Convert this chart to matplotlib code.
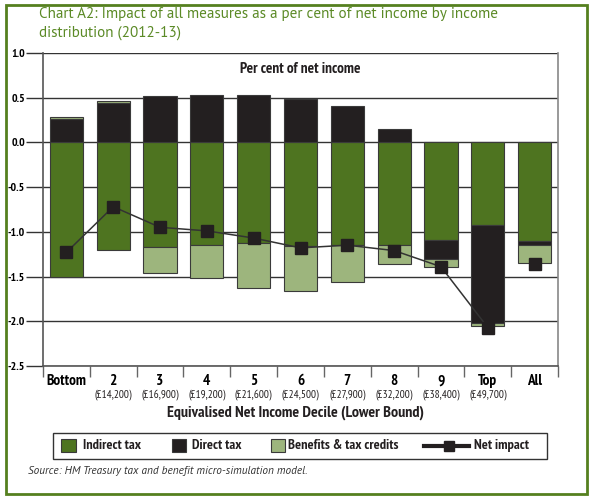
import matplotlib
matplotlib.use("Agg")
import matplotlib.pyplot as plt
from matplotlib import font_manager
from matplotlib.patches import Rectangle
from matplotlib.lines import Line2D
import matplotlib.transforms as mtransforms
import numpy as np

# ---------- DATA ----------
categories = ["Bottom", "2", "3", "4", "5", "6", "7", "8", "9", "Top", "All"]
lower_bounds = ["", "(£14,200)", "(£16,900)", "(£19,200)", "(£21,600)", "(£24,500)",
                "(£27,900)", "(£32,200)", "(£38,400)", "(£49,700)", ""]

indirect_tax = [-1.51, -1.20, -1.17, -1.15, -1.13, -1.16, -1.15, -1.15, -1.09, -0.92, -1.10]
direct_tax = [0.26, 0.44, 0.52, 0.53, 0.53, 0.48, 0.40, 0.15, -0.21, -1.10, -0.05]
benefits = [0.02, 0.02, -0.29, -0.37, -0.50, -0.50, -0.41, -0.21, -0.09, -0.03, -0.20]
net_impact = [-1.23, -0.72, -0.95, -0.99, -1.07, -1.18, -1.15, -1.21, -1.39, -2.07, -1.36]

legend_labels = ["Indirect tax", "Direct tax", "Benefits & tax credits", "Net impact"]

# ---------- FONTS ----------
fonts = font_manager.fontManager.ttflist
names = {f.name for f in fonts}
main = None
for fam in ["PT Sans Narrow", "Asap Condensed", "Fira Sans Condensed"]:
    if fam in names:
        main = fam
        break
if main:
    plt.rcParams['font.family'] = [main, "DejaVu Sans"]
else:
    plt.rcParams['font.family'] = ["DejaVu Sans"]
    plt.rcParams['font.stretch'] = "condensed"
# a wider companion face for the title and source line
wide = ["PT Sans", "DejaVu Sans"] if "PT Sans" in names else plt.rcParams['font.family']

GREEN = "#4e7420"
BLACK = "#231f20"
LIGHT = "#9db57d"
EDGE = "#3a3a3a"
TITLE_GREEN = "#5b8a26"

W, H = 595, 503
fig = plt.figure(figsize=(W / 100, H / 100), dpi=100)
ax = fig.add_axes([43 / W, 1 - 366 / H, 515 / W, 313.2 / H])
renderer = fig.canvas.get_renderer()


def fx(px):
    return px / W


def fy(py):
    return 1 - py / H


def fit(t, target_px, max_size=None):
    # scale a text so its drawn width matches the reference
    w = t.get_window_extent(renderer).width
    size = t.get_fontsize() * target_px / w
    if max_size:
        size = min(size, max_size)
    t.set_fontsize(size)
    return t


x = np.arange(len(categories))
width = 0.71

# stack positives upward and negatives downward from zero
pos_base = np.zeros(len(x))
neg_base = np.zeros(len(x))
for vals, col in [(indirect_tax, GREEN), (direct_tax, BLACK), (benefits, LIGHT)]:
    vals = np.array(vals)
    bottoms = np.where(vals >= 0, pos_base, neg_base)
    ax.bar(x, vals, width, bottom=bottoms, color=col, edgecolor=EDGE,
           linewidth=0.8, zorder=3)
    pos_base = np.where(vals >= 0, pos_base + vals, pos_base)
    neg_base = np.where(vals < 0, neg_base + vals, neg_base)

# net impact: line through the deciles, separate marker for All
ax.plot(x[:10], net_impact[:10], color="#333333", linewidth=1.1, marker="s",
        markersize=8, markerfacecolor=BLACK, markeredgecolor=BLACK, zorder=4)
ax.plot(x[10:], net_impact[10:], linestyle="none", marker="s", markersize=8,
        markerfacecolor=BLACK, markeredgecolor=BLACK, zorder=4)

# ---------- AXES ----------
yt = np.arange(-2.5, 1.01, 0.5)
ax.set_xlim(-0.5, 10.5)
ax.set_ylim(-2.5, 1.0)
ax.set_yticks(yt)
ax.set_yticklabels([f"{v:.1f}" for v in yt], fontweight="bold", fontsize=8.5)
ax.yaxis.grid(True, color="#333333", linewidth=1.0, zorder=0)
ax.tick_params(axis="y", length=12, width=1.0, color="#333333", pad=1)

ax.set_xticks(x)
ax.set_xticklabels(categories, fontweight="bold")
ax.tick_params(axis="x", which="major", length=0, pad=6)
ax.set_xticks(np.arange(-0.5, 10.6, 1.0), minor=True)
ax.tick_params(axis="x", which="minor", length=8, width=1.0, color="#666666")

ax.spines["top"].set_visible(False)
ax.spines["left"].set_color("#555555")
ax.spines["left"].set_linewidth(1.2)
ax.spines["right"].set_color("#888888")
ax.spines["right"].set_linewidth(1.2)
ax.spines["bottom"].set_color("#555555")
ax.spines["bottom"].set_linewidth(1.2)
ax.set_axisbelow(True)

# size category labels from the reference "Bottom" width
fig.canvas.draw()
bottom_lab = ax.get_xticklabels()[0]
fit(bottom_lab, 42, 11)
for t in ax.get_xticklabels():
    t.set_fontsize(bottom_lab.get_fontsize())

# lower bound labels under the category names
trans = mtransforms.blended_transform_factory(ax.transData, fig.transFigure)
sub = []
for xi, lab in zip(x, lower_bounds):
    if lab:
        sub.append(ax.text(xi, fy(395), lab, transform=trans, ha="center", va="center",
                           fontsize=8, color=BLACK))
fit(sub[0], 39.5, 8)
for t in sub:
    t.set_fontsize(sub[0].get_fontsize())

xl = fig.text(fx(166.7), fy(413), "Equivalised Net Income Decile (Lower Bound)",
              ha="left", va="center", fontsize=11, fontweight="bold", color=BLACK)
fit(xl, 265, 11.5)

pc = fig.text(fx(240), fy(69), "Per cent of net income", ha="left", va="center",
              fontsize=10.5, fontweight="bold", color=BLACK)
fit(pc, 129, 11)

# ---------- TITLE ----------
t1 = fig.text(fx(39), fy(14), "Chart A2: Impact of all measures as a per cent of net income by income",
              ha="left", va="center", fontsize=12, color=TITLE_GREEN, family=wide)
fit(t1, 461, 12)
fig.text(fx(39), fy(33), "distribution (2012-13)", ha="left", va="center",
         fontsize=t1.get_fontsize(), color=TITLE_GREEN, family=wide)

# ---------- LEGEND (drawn by hand to match the box) ----------
fig.patches.append(Rectangle((fx(53), fy(459)), (547 - 53) / W, 26 / H,
                             transform=fig.transFigure, facecolor="white",
                             edgecolor="#333333", linewidth=1.0))
ly = 445.5
for col, x0 in [(GREEN, 61.5), (BLACK, 172), (LIGHT, 270.5)]:
    fig.patches.append(Rectangle((fx(x0), fy(452)), 14 / W, 13 / H,
                                 transform=fig.transFigure, facecolor=col,
                                 edgecolor=EDGE, linewidth=0.8))
fig.lines.append(Line2D([fx(424), fx(469)], [fy(ly), fy(ly)], transform=fig.transFigure,
                        color=BLACK, linewidth=3))
fig.lines.append(Line2D([fx(449)], [fy(ly + 0.5)], transform=fig.transFigure,
                        marker="s", markersize=7, color=BLACK, linestyle="none"))
leg_txt = []
for lab, x0, wpx in zip(legend_labels, [82.7, 191.7, 288, 474], [64, 57, 110, 63]):
    t = fig.text(fx(x0), fy(ly), lab, ha="left", va="center", fontsize=11, color=BLACK,
                 fontweight="semibold")
    leg_txt.append((t, wpx))
s = min(wpx / t.get_window_extent(renderer).width for t, wpx in leg_txt)
for t, _ in leg_txt:
    t.set_fontsize(min(t.get_fontsize() * s, 11))

src = fig.text(fx(28), fy(471), "Source: HM Treasury tax and benefit micro-simulation model.",
               ha="left", va="center", fontsize=8, style="italic", color="#333333",
               family=wide)
fit(src, 280, 8.5)

# ---------- GREEN BORDER (kept behind the axes so tick labels stay readable) ----------
fig.patches.append(Rectangle((fx(6), fy(494)), 581 / W, 489.5 / H,
                             transform=fig.transFigure, fill=False,
                             edgecolor="#55801f", linewidth=2.0, zorder=-1))

fig.savefig("out.png", dpi=100)
